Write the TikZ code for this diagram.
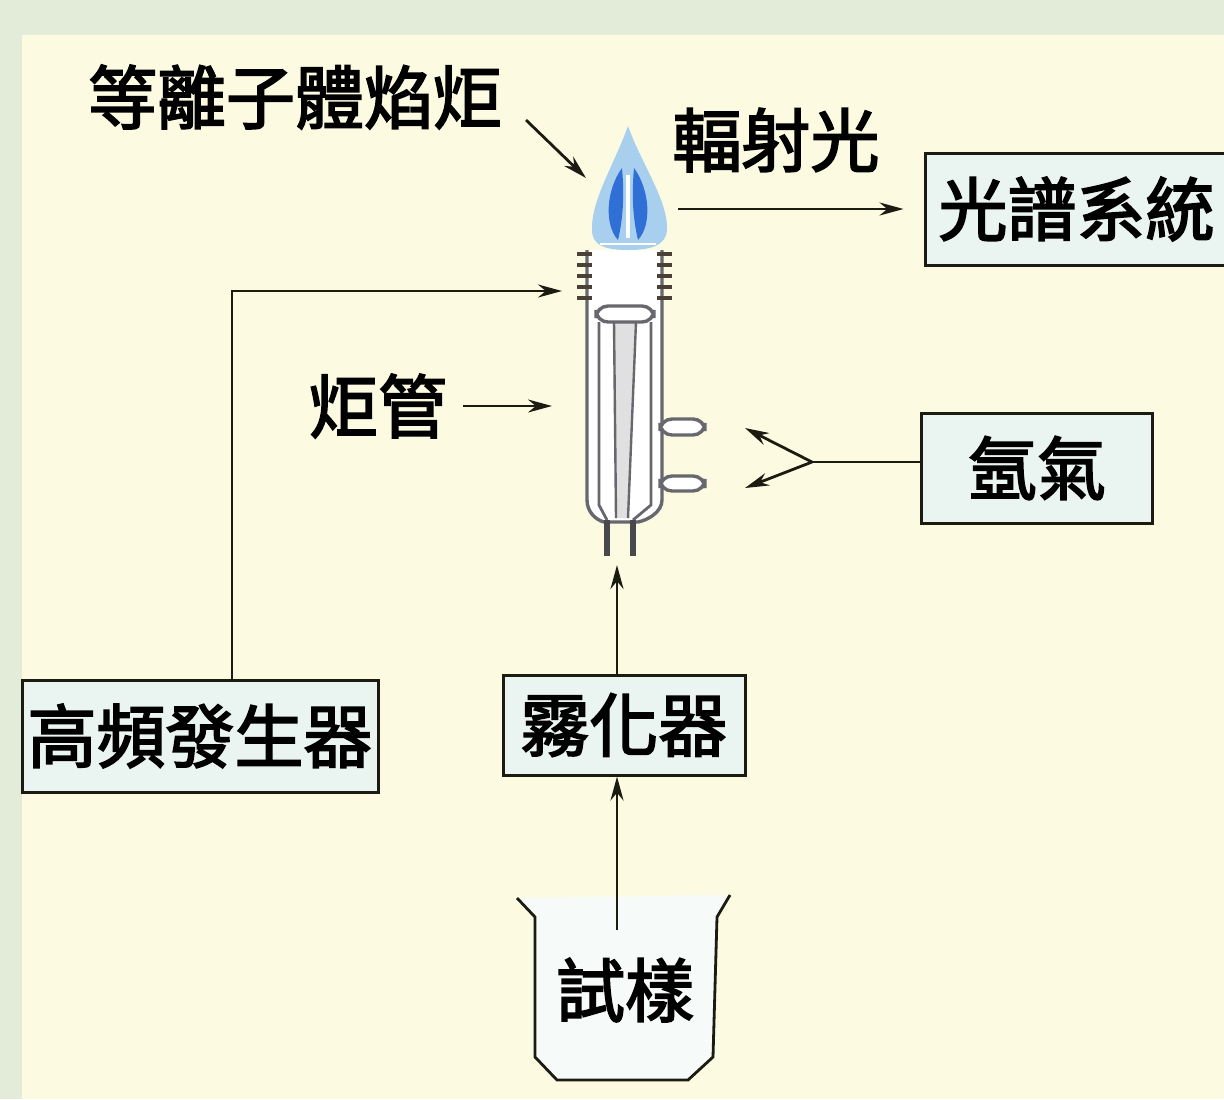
\documentclass[tikz,border=0pt]{standalone}
\usepackage{fontspec}
\newfontfamily\cjk[FakeBold=2.6]{Noto Sans CJK TC}
\usetikzlibrary{arrows.meta,calc}

\definecolor{PanelEdge}{HTML}{E3ECD9}
\definecolor{PanelFill}{HTML}{FCFBE2}
\definecolor{BoxFill}{HTML}{EAF4F0}
\definecolor{WireInk}{HTML}{1B1B12}
\definecolor{GlassRule}{HTML}{67676E}
\definecolor{CoilInk}{HTML}{4A4038}
\definecolor{FlameLight}{HTML}{A8D0EE}
\definecolor{FlameCore}{HTML}{2F6FD6}

\tikzset{
  unitbox/.style={draw=WireInk,line width=1.5pt,fill=BoxFill,inner sep=0pt,
    font=\cjk\fontsize{34.5}{36}\selectfont},
  caption/.style={inner sep=0pt,font=\cjk\fontsize{34.5}{36}\selectfont},
  wire/.style={draw=WireInk,line width=1.4pt},
  feed/.style={wire,-{Stealth[length=12pt,width=6.5pt]}},
  glass/.style={draw=GlassRule,line width=1.7pt,fill=white},
}

\begin{document}
\begin{tikzpicture}[x=0.5pt,y=-0.5pt]
  \useasboundingbox (0,0) rectangle (1224,1099);
  \fill[PanelEdge] (0,0) rectangle (1224,1099);
  \fill[PanelFill] (22,35) rectangle (1224,1099);

  % torch body
  \draw[glass] (587,250) -- (587,500) .. controls (587,512) and (596,520) .. (604,522)
    -- (638,522) .. controls (648,520) and (662,512) .. (662,500) -- (662,250);
  \draw[glass,rounded corners=6pt] (660,419) rectangle (705,435);
  \draw[glass,rounded corners=6pt] (660,476) rectangle (705,491);
  \draw[GlassRule,line width=1.4pt] (599,322) -- (599,505) -- (607,520);
  \draw[GlassRule,line width=1.4pt] (651,322) -- (651,505) -- (633,520);
  \fill[black!12] (614,322) -- (636,322) -- (628,518) -- (616,518) -- cycle;
  \draw[GlassRule,line width=1.2pt] (614,322) -- (616,518) (636,322) -- (628,518);
  \draw[glass,rounded corners=6pt] (596,306) rectangle (654,322);
  \draw[GlassRule!70!black,line width=3pt] (607,520) -- (607,556) (633,520) -- (633,556);
  \foreach \y in {254,265,276,287,298} {
    \draw[CoilInk,line width=1.6pt] (577,\y) -- (592,\y);
    \draw[CoilInk,line width=1.6pt] (657,\y) -- (672,\y);
  }

  % flame
  \fill[FlameLight] (628,126) .. controls (642,165) and (668,200) .. (667,230)
    .. controls (666,246) and (650,250) .. (628,250)
    .. controls (606,250) and (592,246) .. (592,230)
    .. controls (591,200) and (614,165) .. (628,126) -- cycle;
  \fill[FlameCore] (622,168) .. controls (606,190) and (604,225) .. (618,240)
    .. controls (624,215) and (624,190) .. (622,168) -- cycle;
  \fill[FlameCore] (634,168) .. controls (650,190) and (652,225) .. (638,240)
    .. controls (632,215) and (632,190) .. (634,168) -- cycle;
  \draw[white,line width=2pt] (628,175) -- (628,238);
  \draw[white,line width=1.2pt] (600,244) -- (656,244);

  % beaker
  \draw[WireInk,line width=1.4pt,fill=white!55!BoxFill]
    (517,898) -- (535,917) -- (535,1057) -- (557,1080) -- (688,1080)
    -- (713,1057) -- (717,917) -- (730,895);

  % boxes and labels
  \node[unitbox,minimum width=151.5pt,minimum height=56pt] (spec) at (1076.5,209) {光譜系統};
  \node[unitbox,minimum width=115.5pt,minimum height=55pt] (argon) at (1037,468) {氬氣};
  \node[unitbox,minimum width=121pt,minimum height=50pt] (neb) at (624,725) {霧化器};
  \node[unitbox,minimum width=178pt,minimum height=56pt] (rfgen) at (200,736) {高頻發生器};
  \node[caption] (plasma) at (295,97) {等離子體焰炬};
  \node[caption] (light) at (776,140) {輻射光};
  \node[caption] (tube) at (378,406) {炬管};
  \node[caption] (sample) at (625,990) {試樣};

  \coordinate (flame) at (586,178);
  \coordinate (rfcorner) at (232,291);
  \coordinate (coilin) at (562,291);
  \coordinate (tubein) at (552,405);
  \coordinate (arjoin) at (812,462);
  \coordinate (portA) at (745,428);
  \coordinate (portB) at (745,488);
  \coordinate (torchfoot) at (617,565);
  \coordinate (beakertop) at (617,930);

  % connectors
  \draw[feed] (526,120) -- (flame);
  \draw[feed,shorten >=10pt] (678,209) -- (spec.west);
  \draw[feed] (rfgen.north -| rfcorner) -- (rfcorner) -- (coilin);
  \draw[feed] ([xshift=8pt]tube.east) -- (tubein |- tube.east);
  \draw[wire] (argon.west |- arjoin) -- (arjoin);
  \draw[feed] (arjoin) -- (portA);
  \draw[feed] (arjoin) -- (portB);
  \draw[feed] (neb.north -| torchfoot) -- (torchfoot);
  \draw[feed] (beakertop) -- (neb.south -| beakertop);
\end{tikzpicture}
\end{document}
